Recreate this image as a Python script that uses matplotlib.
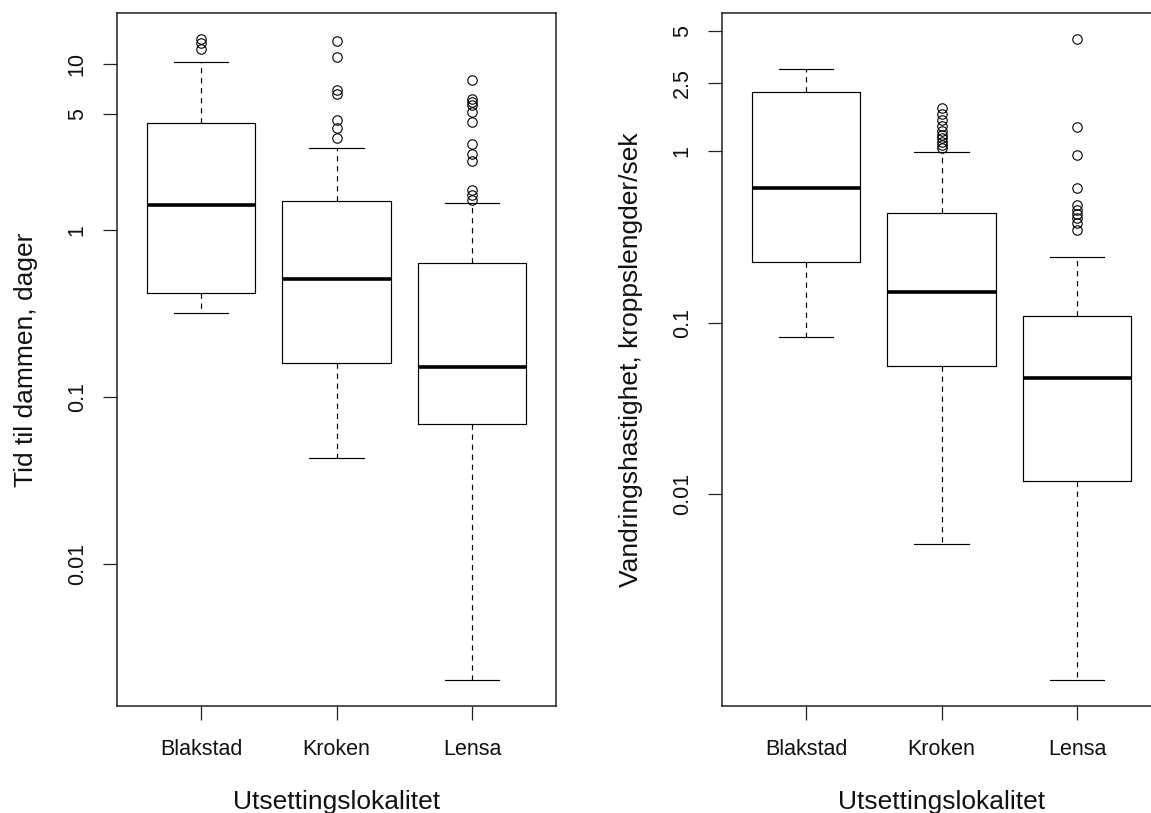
import numpy as np
import matplotlib
matplotlib.use("Agg")
import matplotlib.pyplot as plt
from matplotlib.ticker import NullLocator

plt.rcParams["font.family"] = ["Liberation Sans", "DejaVu Sans"]

# Release sites
sites = ["Blakstad", "Kroken", "Lensa"]

# Time to reach the dam (days): five-number summaries and outliers per site
tid_whislo = [0.321, 0.0431, 0.0020]
tid_q1 = [0.418, 0.159, 0.0689]
tid_med = [1.41, 0.509, 0.151]
tid_q3 = [4.39, 1.49, 0.637]
tid_whishi = [10.2, 3.10, 1.46]
tid_outliers = [
    [14.1, 13.2, 12.3],
    [13.7, 10.9, 6.9, 6.6, 4.6, 4.1, 3.6],
    [7.98, 6.15, 5.87, 5.61, 5.11, 4.45, 3.31, 2.88, 2.60, 1.74, 1.62, 1.51],
]
tid_ticks = [0.01, 0.1, 1, 5, 10]
tid_ticklabels = ["0.01", "0.1", "1", "5", "10"]

# Migration speed (body lengths per second)
fart_whislo = [0.0827, 0.0051, 0.00082]
fart_q1 = [0.2265, 0.0557, 0.0120]
fart_med = [0.612, 0.151, 0.0479]
fart_q3 = [2.21, 0.439, 0.110]
fart_whishi = [3.04, 0.987, 0.243]
fart_outliers = [
    [],
    [1.78, 1.64, 1.52, 1.41, 1.31, 1.25, 1.20, 1.14, 1.09, 1.05],
    [4.54, 1.38, 0.957, 0.609, 0.489, 0.457, 0.428, 0.409, 0.382, 0.349],
]
fart_ticks = [0.01, 0.1, 1, 2.5, 5]
fart_ticklabels = ["0.01", "0.1", "1", "2.5", "5"]

xlabel = "Utsettingslokalitet"
tid_ylabel = "Tid til dammen, dager"
fart_ylabel = "Vandringshastighet, kroppslengder/sek"

W, H = 1151, 813
fig = plt.figure(figsize=(W / 100, H / 100), dpi=100)
fig.patch.set_facecolor("white")

ax_w = 439 / W
ax_h = 693 / H
ax_b = (H - 706) / H
ax1 = fig.add_axes([117 / W, ax_b, ax_w, ax_h])
ax2 = fig.add_axes([722 / W, ax_b, ax_w, ax_h])

LW = 0.85
TICK_FS = 15.5
LABEL_FS = 19


def draw_panel(ax, whislo, q1, med, q3, whishi, outliers, ticks, ticklabels, ylabel):
    stats = []
    for i, name in enumerate(sites):
        stats.append(dict(label=name, whislo=whislo[i], q1=q1[i], med=med[i],
                          q3=q3[i], whishi=whishi[i],
                          fliers=np.array(outliers[i], dtype=float)))
    pos = np.arange(1, len(sites) + 1)
    ax.bxp(stats, positions=pos, widths=0.8, capwidths=0.4, manage_ticks=False,
           boxprops=dict(color="black", linewidth=LW),
           whiskerprops=dict(color="black", linewidth=LW, linestyle=(0, (4.5, 4.0))),
           capprops=dict(color="black", linewidth=LW),
           medianprops=dict(color="black", linewidth=2.6, solid_capstyle="butt"),
           flierprops=dict(marker="o", markerfacecolor="none", markeredgecolor="black",
                           markersize=6.8, markeredgewidth=0.8, linestyle="none"))

    # R-style limits: data range padded by 4 % on a log scale
    allv = np.concatenate([np.array(whislo), np.array(whishi)] +
                          [np.array(o, dtype=float) for o in outliers if len(o)])
    lo, hi = np.log10(allv.min()), np.log10(allv.max())
    pad = 0.04 * (hi - lo)
    ax.set_yscale("log")
    ax.set_ylim(10 ** (lo - pad), 10 ** (hi + pad))
    n = len(sites)
    ax.set_xlim(0.5 - 0.04 * n, n + 0.5 + 0.04 * n)

    ax.set_yticks(ticks, ticklabels, rotation=90, va="center", fontsize=TICK_FS)
    ax.yaxis.set_minor_locator(NullLocator())
    ax.set_xticks(pos, sites, fontsize=TICK_FS)
    ax.tick_params(axis="both", direction="out", length=10, width=0.9,
                   color="#222222", labelcolor="#111111")
    ax.tick_params(axis="y", pad=11)
    ax.tick_params(axis="x", pad=14)

    for sp in ax.spines.values():
        sp.set_linewidth(1.1)
        sp.set_color("#222222")

    ax.set_xlabel(xlabel, fontsize=LABEL_FS, color="#111111")
    ax.set_ylabel(ylabel, fontsize=LABEL_FS, color="#111111")
    ax.xaxis.set_label_coords(0.5, -0.1215)
    ax.yaxis.set_label_coords(-0.18, 0.5)


draw_panel(ax1, tid_whislo, tid_q1, tid_med, tid_q3, tid_whishi, tid_outliers,
           tid_ticks, tid_ticklabels, tid_ylabel)
draw_panel(ax2, fart_whislo, fart_q1, fart_med, fart_q3, fart_whishi, fart_outliers,
           fart_ticks, fart_ticklabels, fart_ylabel)

fig.savefig("out.png", dpi=100, facecolor="white")
